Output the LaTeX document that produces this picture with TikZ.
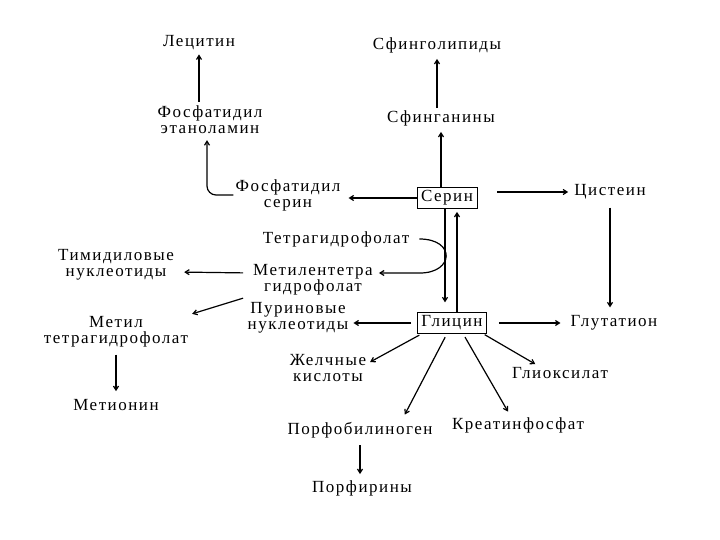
\documentclass[tikz,border=0pt]{standalone}
\usepackage{fontspec}
\setmainfont{Liberation Serif}[LetterSpace=9]
\usetikzlibrary{arrows.meta}

\begin{document}
\begin{tikzpicture}[x=1pt,y=-1pt,
    every node/.style={font=\fontsize{17}{16}\selectfont, align=center, inner sep=2pt},
    box/.style={draw, line width=0.9pt, inner xsep=4pt, inner ysep=3pt},
    arr/.style={-{Straight Barb[length=4pt,width=5pt]}, line width=1.2pt}]
\useasboundingbox (0,0) rectangle (720,540);

% lipids
\node (lec) at (199,43) {Лецитин};
\node (fet) at (210,120) {Фосфатидил\\этаноламин};
\node (fser) at (288,195) {Фосфатидил\\серин};
\node (sfl) at (437,45) {Сфинголипиды};
\node (sfg) at (441,118) {Сфинганины};

% serine and glycine
\node[box] (ser) at (447,198) {Серин};
\node[box] (gly) at (452,323) {Глицин};
\node (cys) at (610,192) {Цистеин};
\node (glt) at (614,323) {Глутатион};

% folate
\node (thf) at (336,239) {Тетрагидрофолат};
\node (mth) at (313,280) {Метилентетра\\гидрофолат};
\node (thy) at (116,265) {Тимидиловые\\нуклеотиды};
\node (mthf) at (116,332) {Метил\\тетрагидрофолат};
\node (met) at (116,405) {Метионин};
\node (pur) at (298,318) {Пуриновые\\нуклеотиды};

% glycine products
\node (bile) at (328,368) {Желчные\\кислоты};
\node (glx) at (560,373) {Глиоксилат};
\node (pbg) at (360,430) {Порфобилиноген};
\node (cre) at (518,425) {Креатинфосфат};
\node (prf) at (362,488) {Порфирины};

\draw[arr, shorten <=2pt, shorten >=2pt] (fet.north -| lec.south) -- (lec.south);
\draw[arr, shorten >=4pt] (fser.west) [rounded corners=9pt] -| ([xshift=-3pt]fet.south);
\draw[arr, shorten >=4pt] (sfg.north -| sfl.south) -- (sfl.south);
\draw[arr, shorten >=4pt] (ser.north -| sfg.south) -- (sfg.south);
\draw[arr, shorten >=6pt] (ser.west) -- (fser.east |- ser.west);
\draw[arr, shorten <=20pt, shorten >=4pt] (ser.east |- cys.west) -- (cys.west);
\draw[arr, shorten <=6pt, shorten >=6pt] (cys.south) -- (glt.north -| cys.south);
\draw[arr, shorten <=12pt, shorten >=8pt] (gly.east) -- (glt.west);
\draw[arr, shorten <=6pt, shorten >=3pt] (gly.west) -- (pur.east |- gly.west);
\draw[arr, shorten >=10pt] ([xshift=-2pt]ser.south) -- ([xshift=-2pt]ser.south |- gly.north);
\draw[arr, shorten >=3pt] ([xshift=10pt]ser.south |- gly.north) -- ([xshift=10pt]ser.south);
\draw[arr, shorten <=8pt, shorten >=4pt] (thf.east) .. controls (456,239) and (454,273) .. (420,273) -- ([yshift=7pt]mth.east);
\draw[arr, shorten <=8pt, shorten >=8pt] ([yshift=7pt]mth.west) -- ([yshift=-7pt]thy.east);
\draw[arr, shorten <=2pt, shorten >=2pt] ([xshift=-6pt]mth.south west) -- (mthf.north east);
\draw[arr, shorten <=5pt, shorten >=6pt] (mthf.south) -- (met.north);
\draw[arr, shorten <=3pt, shorten >=2pt] ([xshift=-30pt]gly.south) -- ([yshift=5pt]bile.east);
\draw[arr, shorten <=4pt, shorten >=6pt] ([xshift=-5pt]gly.south) -- ([xshift=42pt]pbg.north);
\draw[arr, shorten <=4pt, shorten >=4pt] ([xshift=11pt]gly.south) -- ([xshift=-8pt]cre.north);
\draw[arr, shorten <=2pt, shorten >=2pt] ([xshift=-4pt]gly.south east) -- ([xshift=-23pt]glx.north);
\draw[arr, shorten <=5pt, shorten >=4pt] (pbg.south) -- (pbg.south |- prf.north);
\end{tikzpicture}
\end{document}
